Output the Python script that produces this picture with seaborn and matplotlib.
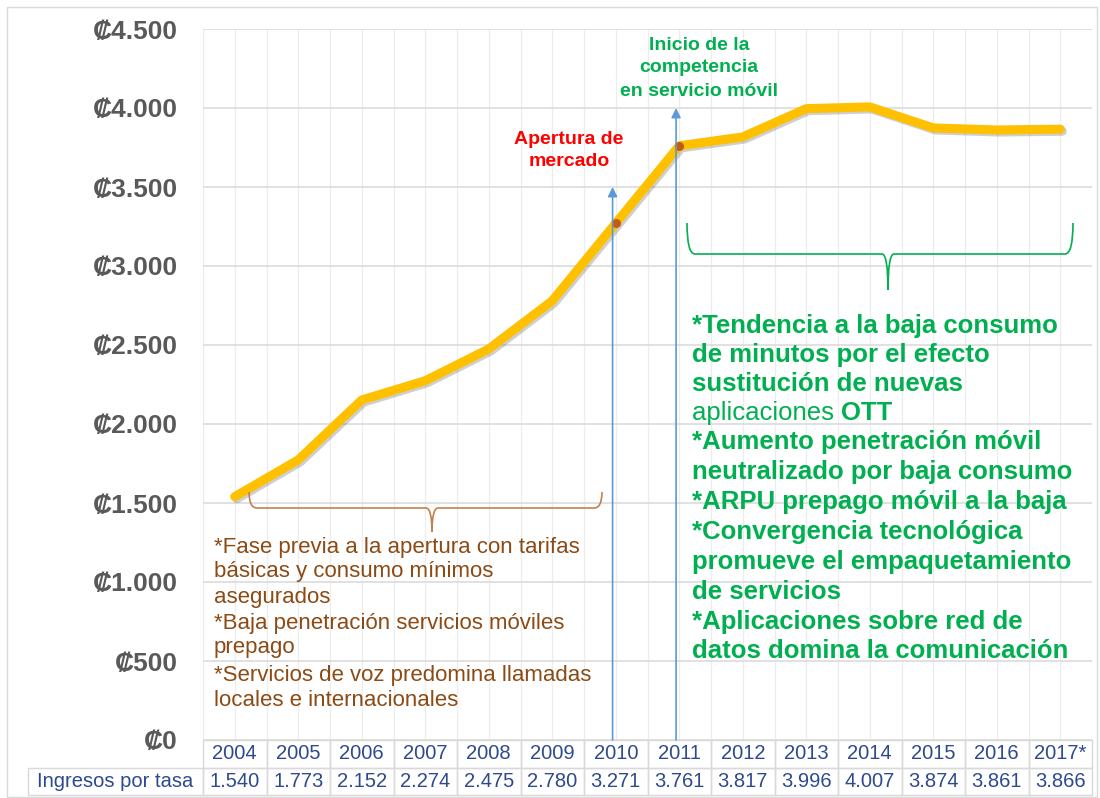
import numpy as np
import pandas as pd
import matplotlib
matplotlib.use("Agg")
import matplotlib.pyplot as plt
import seaborn as sns
from matplotlib.path import Path
from matplotlib.patches import PathPatch, Rectangle
import matplotlib.patheffects as pe

# ---------------- data ----------------
years = ["2004", "2005", "2006", "2007", "2008", "2009", "2010",
         "2011", "2012", "2013", "2014", "2015", "2016", "2017*"]
ingresos = [1540, 1773, 2152, 2274, 2475, 2780, 3271,
            3761, 3817, 3996, 4007, 3874, 3861, 3866]
row_label = "Ingresos por tasa"
y_ticks = [0, 500, 1000, 1500, 2000, 2500, 3000, 3500, 4000, 4500]
hito_years = ["2010", "2011"]
hito_arrow_tops = [3500, 4000]

brown_lines = [
    "*Fase previa a la apertura con tarifas",
    "básicas y consumo mínimos",
    "asegurados",
    "*Baja penetración servicios móviles",
    "prepago",
    "*Servicios de voz predomina llamadas",
    "locales e internacionales",
]
green_lines = [
    "*Tendencia a la baja consumo",
    "de minutos por el efecto",
    "sustitución de nuevas",
    None,  # "aplicaciones OTT" (mixed weight)
    "*Aumento penetración móvil",
    "neutralizado por baja consumo",
    "*ARPU prepago móvil a la baja",
    "*Convergencia tecnológica",
    "promueve el empaquetamiento",
    "de servicios",
    "*Aplicaciones sobre red de",
    "datos domina la comunicación",
]

# ---------------- style ----------------
sns.set_theme(style="white")
plt.rcParams['font.family'] = ['Liberation Sans', 'DejaVu Sans']

W, H = 1100, 798
fig = plt.figure(figsize=(W / 100, H / 100), dpi=100)
L, R, T, B = 203, 1092, 29, 740
ax = fig.add_axes([L / W, 1 - B / H, (R - L) / W, (B - T) / H])

n = len(years)
df = pd.DataFrame({"pos": np.arange(n), "year": years, "ingresos": ingresos})

sns.lineplot(data=df, x="pos", y="ingresos", ax=ax, color="#FFC000", lw=6.5,
             solid_capstyle="round", solid_joinstyle="round", zorder=3,
             path_effects=[pe.SimpleLineShadow(offset=(1.5, -1.5), shadow_color="#606060", alpha=0.3),
                           pe.Normal()])

ax.set_xlim(-0.5, n - 0.5)
ax.set_ylim(0, 4500)
ax.set_xticks(np.arange(-0.5, n, 0.5))
ax.set_xticklabels([])
ax.set_yticks(y_ticks)
ax.set_yticklabels([("₡{:,.0f}".format(v)).replace(",", ".") for v in y_ticks],
                   fontsize=19, fontweight="bold", color="#595959")
ax.tick_params(axis="both", length=0)
ax.tick_params(axis="y", pad=18)
ax.grid(axis="x", color="#EDEDED", lw=0.9)
ax.grid(axis="y", color="#D9D9D9", lw=1.1)
ax.set_xlabel("")
ax.set_ylabel("")
for s in ax.spines.values():
    s.set_visible(False)

# markers and arrows at milestones
hdf = df[df["year"].isin(hito_years)]
ax.scatter(hdf["pos"], hdf["ingresos"], s=30, color="#C55A11", zorder=4)
for yr, top in zip(hito_years, hito_arrow_tops):
    i = years.index(yr)
    ax.annotate("", xy=(i - 0.05, top), xytext=(i - 0.05, 0),
                arrowprops=dict(arrowstyle="-|>", color="#5B9BD5", lw=1.2,
                                mutation_scale=14, shrinkA=0, shrinkB=0),
                zorder=5, annotation_clip=False)

# ---------------- table ----------------
vals = [("{:,.0f}".format(v)).replace(",", ".") for v in ingresos]
tx0, tx1, ty0, ty1 = 28, 1092, 740, 795
first_w = L - tx0
col_w = (R - L) / n
tbl = ax.table(cellText=[[""] + years, [row_label] + vals],
               cellLoc="center",
               colWidths=[first_w / (tx1 - tx0)] + [col_w / (tx1 - tx0)] * n,
               bbox=[(tx0 - L) / (R - L), -(ty1 - ty0) / (B - T),
                     (tx1 - tx0) / (R - L), (ty1 - ty0) / (B - T)])
tbl.auto_set_font_size(False)
for (r, c), cell in tbl.get_celld().items():
    cell.set_edgecolor("#D9D9D9")
    cell.set_linewidth(1.0)
    cell.set_facecolor("none")
    cell.get_text().set_fontsize(14.5)
    cell.get_text().set_color("#2E4A8E")
    if r == 0 and c == 0:
        cell.visible_edges = ""

# ---------------- annotations ----------------
def fx(px):
    return px / W

def fy(py):
    return 1 - py / H

def brace(x0, x1, xc, ytop, ymid, ytip, color, r=8, r2=6):
    pts = [(x0, ytop), (x0, ymid), (x0 + r, ymid), (xc - r2, ymid), (xc, ymid), (xc, ytip),
           (xc, ymid), (xc + r2, ymid), (x1 - r, ymid), (x1, ymid), (x1, ytop)]
    codes = [Path.MOVETO, Path.CURVE3, Path.CURVE3, Path.LINETO, Path.CURVE3, Path.CURVE3,
             Path.CURVE3, Path.CURVE3, Path.LINETO, Path.CURVE3, Path.CURVE3]
    verts = [(fx(a), fy(b)) for a, b in pts]
    patch = PathPatch(Path(verts, codes), transform=fig.transFigure, fill=False,
                      edgecolor=color, lw=1.2)
    fig.add_artist(patch)

brace(249, 602, 432, 492, 508, 532, "#C5804F")
brace(687, 1073, 888, 223, 254, 290, "#00B050")

fig.text(fx(569), fy(139), "Apertura de", ha="center", va="center",
         fontsize=14, fontweight="bold", color="#FF0000")
fig.text(fx(569), fy(161), "mercado", ha="center", va="center",
         fontsize=14, fontweight="bold", color="#FF0000")
for s, yy in zip(["Inicio de la", "competencia", "en servicio móvil"], [46, 68, 91]):
    fig.text(fx(699), fy(yy), s, ha="center", va="center",
             fontsize=14, fontweight="bold", color="#00B050")

brown_y = [548, 572, 597, 624, 648, 676, 700]
for s, yy in zip(brown_lines, brown_y):
    fig.text(fx(214), fy(yy), s, ha="left", va="center", fontsize=16, color="#8C4A14")

green_y = [326, 355, 384, 413, 442, 472, 502, 532, 562, 592, 622, 651]
for s, yy in zip(green_lines, green_y):
    if s is None:
        t1 = fig.text(fx(692), fy(yy), "aplicaciones ", ha="left", va="center",
                      fontsize=18.5, color="#00B050")
        fig.add_artist(plt.Annotation("OTT", xy=(1, 0.5), xycoords=t1, ha="left", va="center",
                                      fontsize=18.5, fontweight="bold", color="#00B050"))
    else:
        fig.text(fx(692), fy(yy), s, ha="left", va="center",
                 fontsize=18.5, fontweight="bold", color="#00B050")

fig.add_artist(Rectangle((fx(7), fy(797)), fx(1097) - fx(7), fy(7) - fy(797),
                         transform=fig.transFigure, fill=False, edgecolor="#D9D9D9", lw=1))

fig.savefig("out.png", dpi=100)
